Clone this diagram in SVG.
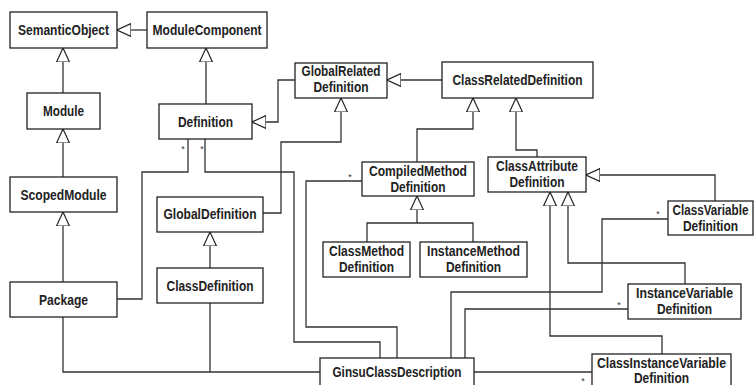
<svg xmlns="http://www.w3.org/2000/svg" width="755" height="385" viewBox="0 0 755 385">
<defs>
<style>
.box{fill:#fff;stroke:#222;stroke-width:1.3}
.t{font-family:"Liberation Sans",Arial,sans-serif;font-weight:bold;font-size:14px;fill:#222;text-anchor:middle}
.c{fill:none;stroke:#333;stroke-width:1.3}
.s{font-family:"Liberation Sans",sans-serif;font-size:9px;fill:#333;text-anchor:middle}
</style>
<marker id="tri" viewBox="0 0 14 14" refX="14" refY="7" markerWidth="14" markerHeight="14" markerUnits="userSpaceOnUse" orient="auto">
<path d="M0,0.5 L14,7 L0,13.5 Z" fill="#fff" stroke="#222" stroke-width="1.2"/>
</marker>
</defs>
<rect width="755" height="385" fill="#fff"/>
<g id="connectors">
<path class="c" d="M147,30 H117" marker-end="url(#tri)"/>
<path class="c" d="M63,93 V48" marker-end="url(#tri)"/>
<path class="c" d="M63,177 V129" marker-end="url(#tri)"/>
<path class="c" d="M63,282 V212" marker-end="url(#tri)"/>
<path class="c" d="M206,104 V48" marker-end="url(#tri)"/>
<path class="c" d="M295,80 H278 V122 H252" marker-end="url(#tri)"/>
<path class="c" d="M442,80 H387" marker-end="url(#tri)"/>
<path class="c" d="M263,213 H281 V142 H341 V98" marker-end="url(#tri)"/>
<path class="c" d="M417,162 V129 H473 V98" marker-end="url(#tri)"/>
<path class="c" d="M537,157 V150 H516 V98" marker-end="url(#tri)"/>
<path class="c" d="M367,242 V223 H473 V242"/>
<path class="c" d="M417,223 V196" marker-end="url(#tri)"/>
<path class="c" d="M210,268 V232" marker-end="url(#tri)"/>
<path class="c" d="M715,201 V175 H586" marker-end="url(#tri)"/>
<path class="c" d="M685,284 V263 H568 V192" marker-end="url(#tri)"/>
<path class="c" d="M662,354 V336 H550 V192" marker-end="url(#tri)"/>
<path class="c" d="M117,299 H142 V172 H188 V139"/>
<path class="c" d="M205,139 V172 H294 V342 H380 V358"/>
<path class="c" d="M362,181 H306 V327 H397 V358"/>
<path class="c" d="M668,219 H602 V292 H451 V358"/>
<path class="c" d="M628,309 H465 V358"/>
<path class="c" d="M592,372 H474"/>
<path class="c" d="M63,317 V372 H320"/>
<path class="c" d="M210,303 V372"/>
<text class="s" x="183" y="152">*</text>
<text class="s" x="202" y="152">*</text>
<text class="s" x="350" y="180">*</text>
<text class="s" x="658" y="217">*</text>
<text class="s" x="619" y="308">*</text>
<text class="s" x="583" y="384">*</text>
</g>
<g id="SemanticObject"><rect class="box" x="10" y="12" width="107" height="36"/><text class="t" x="63.5" y="35" textLength="91" lengthAdjust="spacingAndGlyphs">SemanticObject</text></g>
<g id="ModuleComponent"><rect class="box" x="147" y="12" width="120" height="36"/><text class="t" x="207" y="35" textLength="109" lengthAdjust="spacingAndGlyphs">ModuleComponent</text></g>
<g id="Module"><rect class="box" x="27" y="93" width="73" height="36"/><text class="t" x="63.5" y="116" textLength="41" lengthAdjust="spacingAndGlyphs">Module</text></g>
<g id="Definition"><rect class="box" x="159" y="104" width="93" height="35"/><text class="t" x="205.5" y="127" textLength="55" lengthAdjust="spacingAndGlyphs">Definition</text></g>
<g id="ScopedModule"><rect class="box" x="10" y="177" width="107" height="35"/><text class="t" x="63.5" y="200" textLength="86" lengthAdjust="spacingAndGlyphs">ScopedModule</text></g>
<g id="Package"><rect class="box" x="10" y="282" width="107" height="35"/><text class="t" x="63.5" y="305" textLength="49" lengthAdjust="spacingAndGlyphs">Package</text></g>
<g id="GlobalRelatedDefinition"><rect class="box" x="295" y="63" width="92" height="35"/><text class="t" x="341" y="76" textLength="79" lengthAdjust="spacingAndGlyphs">GlobalRelated</text><text class="t" x="341" y="92" textLength="55" lengthAdjust="spacingAndGlyphs">Definition</text></g>
<g id="ClassRelatedDefinition"><rect class="box" x="442" y="62" width="151" height="36"/><text class="t" x="517.5" y="85" textLength="130" lengthAdjust="spacingAndGlyphs">ClassRelatedDefinition</text></g>
<g id="GlobalDefinition"><rect class="box" x="157" y="197" width="106" height="35"/><text class="t" x="210" y="219" textLength="93" lengthAdjust="spacingAndGlyphs">GlobalDefinition</text></g>
<g id="ClassDefinition"><rect class="box" x="157" y="268" width="106" height="35"/><text class="t" x="210" y="291" textLength="87" lengthAdjust="spacingAndGlyphs">ClassDefinition</text></g>
<g id="CompiledMethodDefinition"><rect class="box" x="362" y="162" width="112" height="34"/><text class="t" x="418" y="176" textLength="98" lengthAdjust="spacingAndGlyphs">CompiledMethod</text><text class="t" x="418" y="192" textLength="55" lengthAdjust="spacingAndGlyphs">Definition</text></g>
<g id="ClassAttributeDefinition"><rect class="box" x="488" y="157" width="98" height="35"/><text class="t" x="537" y="171" textLength="82" lengthAdjust="spacingAndGlyphs">ClassAttribute</text><text class="t" x="537" y="187" textLength="55" lengthAdjust="spacingAndGlyphs">Definition</text></g>
<g id="ClassMethodDefinition"><rect class="box" x="323" y="242" width="87" height="35"/><text class="t" x="366.5" y="256" textLength="75" lengthAdjust="spacingAndGlyphs">ClassMethod</text><text class="t" x="366.5" y="272" textLength="55" lengthAdjust="spacingAndGlyphs">Definition</text></g>
<g id="InstanceMethodDefinition"><rect class="box" x="420" y="242" width="107" height="35"/><text class="t" x="473.5" y="256" textLength="93" lengthAdjust="spacingAndGlyphs">InstanceMethod</text><text class="t" x="473.5" y="272" textLength="55" lengthAdjust="spacingAndGlyphs">Definition</text></g>
<g id="ClassVariableDefinition"><rect class="box" x="668" y="201" width="85" height="34"/><text class="t" x="710.5" y="215" textLength="76" lengthAdjust="spacingAndGlyphs">ClassVariable</text><text class="t" x="710.5" y="231" textLength="55" lengthAdjust="spacingAndGlyphs">Definition</text></g>
<g id="InstanceVariableDefinition"><rect class="box" x="628" y="284" width="113" height="35"/><text class="t" x="684.5" y="298" textLength="97" lengthAdjust="spacingAndGlyphs">InstanceVariable</text><text class="t" x="684.5" y="314" textLength="55" lengthAdjust="spacingAndGlyphs">Definition</text></g>
<g id="ClassInstanceVariableDefinition"><rect class="box" x="592" y="354" width="139" height="40"/><text class="t" x="661.5" y="368" textLength="129" lengthAdjust="spacingAndGlyphs">ClassInstanceVariable</text><text class="t" x="661.5" y="383" textLength="55" lengthAdjust="spacingAndGlyphs">Definition</text></g>
<g id="GinsuClassDescription"><rect class="box" x="320" y="358" width="154" height="36"/><text class="t" x="397" y="377" textLength="129" lengthAdjust="spacingAndGlyphs">GinsuClassDescription</text></g>
</svg>
